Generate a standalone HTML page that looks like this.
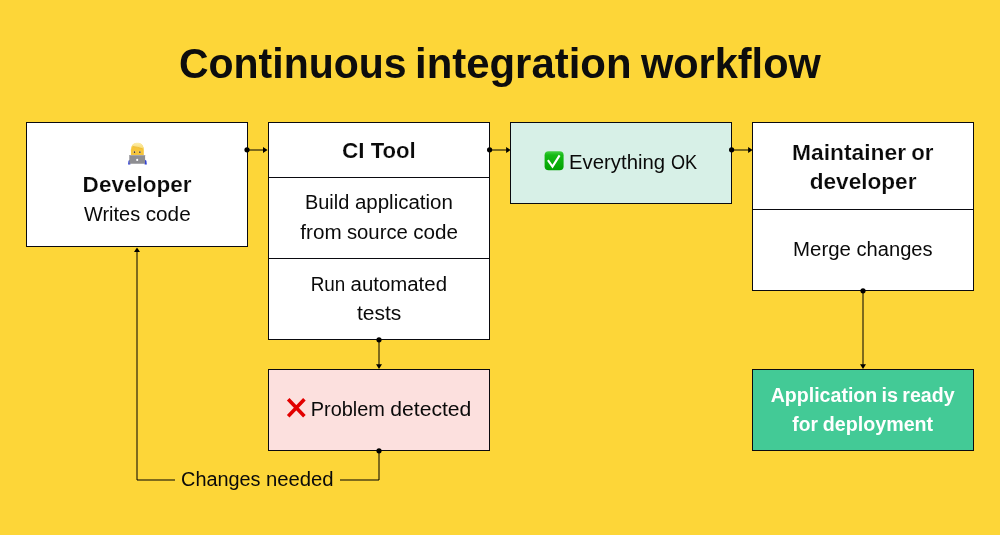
<!DOCTYPE html>
<html><head><meta charset="utf-8">
<style>
html,body{margin:0;padding:0;width:1000px;height:535px;overflow:hidden;background:#FDD638;}
svg{display:block;will-change:transform;}
text{font-family:"Liberation Sans",sans-serif;}
</style></head>
<body>
<svg width="1000" height="535" viewBox="0 0 1000 535">
<defs>
<linearGradient id="gck" x1="0" y1="0" x2="0" y2="1">
<stop offset="0" stop-color="#45d045"/><stop offset="0.2" stop-color="#16bb16"/><stop offset="1" stop-color="#00a200"/>
</linearGradient>
<linearGradient id="ghair" x1="0" y1="0" x2="0" y2="1">
<stop offset="0" stop-color="#fdeeae"/><stop offset="1" stop-color="#f6d255"/>
</linearGradient>
</defs>
<rect x="0" y="0" width="1000" height="535" fill="#FDD638"/>
<g stroke="#0a0a0f" stroke-width="1" shape-rendering="crispEdges">
<rect x="26.5" y="122.5" width="221" height="124" fill="#fff"/>
<rect x="268.5" y="122.5" width="221" height="217" fill="#fff"/>
<line x1="268" y1="177.5" x2="490" y2="177.5"/>
<line x1="268" y1="258.5" x2="490" y2="258.5"/>
<rect x="510.5" y="122.5" width="221" height="81" fill="#D7F0E7"/>
<rect x="752.5" y="122.5" width="221" height="168" fill="#fff"/>
<line x1="752" y1="209.5" x2="974" y2="209.5"/>
<rect x="268.5" y="369.5" width="221" height="81" fill="#FCE0DE"/>
<rect x="752.5" y="369.5" width="221" height="81" fill="#43CA96"/>
</g>
<g stroke="#000" stroke-width="1" fill="none" stroke-linejoin="round">
<line x1="247" y1="150" x2="264" y2="150"/>
<line x1="489" y1="150" x2="507" y2="150"/>
<line x1="731" y1="150" x2="749" y2="150"/>
<line x1="379" y1="339.5" x2="379" y2="365"/>
<line x1="863" y1="290.5" x2="863" y2="365"/>
<polyline points="379,450.5 379,480 340,480"/>
<polyline points="175,480 137,480 137,251"/>
</g>
<g fill="#000">
<circle cx="247" cy="149.8" r="2.6"/>
<circle cx="489.6" cy="149.8" r="2.6"/>
<circle cx="731.6" cy="149.8" r="2.6"/>
<circle cx="379" cy="339.8" r="2.6"/>
<circle cx="863" cy="290.8" r="2.6"/>
<circle cx="379" cy="450.8" r="2.6"/>
<polygon points="263,147 263,153 267.6,150"/>
<polygon points="506.1,147 506.1,153 510.6,150"/>
<polygon points="748.1,147 748.1,153 752.6,150"/>
<polygon points="376,364.3 382,364.3 379,369"/>
<polygon points="860,364.3 866,364.3 863,369"/>
<polygon points="134,252 140,252 137,247.4"/>
</g>
<text x="178.89" y="78.40" font-size="42.8" font-weight="bold" fill="#0d0d0d" textLength="227.80" lengthAdjust="spacingAndGlyphs">Continuous</text>
<text x="414.99" y="78.40" font-size="42.8" font-weight="bold" fill="#0d0d0d" textLength="216.56" lengthAdjust="spacingAndGlyphs">integration</text>
<text x="640.97" y="78.40" font-size="42.8" font-weight="bold" fill="#0d0d0d" textLength="179.77" lengthAdjust="spacingAndGlyphs">workflow</text>
<text x="82.63" y="192.00" font-size="22" font-weight="bold" fill="#0a0a0a" stroke="#fff" stroke-width="0.18" textLength="108.86" lengthAdjust="spacingAndGlyphs">Developer</text>
<text x="84.01" y="221.00" font-size="19.5" fill="#0a0a0a" textLength="56.15" lengthAdjust="spacingAndGlyphs">Writes</text>
<text x="145.74" y="221.00" font-size="19.5" fill="#0a0a0a" textLength="44.95" lengthAdjust="spacingAndGlyphs">code</text>
<text x="342.07" y="158.12" font-size="22" font-weight="bold" fill="#0a0a0a" stroke="#fff" stroke-width="0.18" textLength="22.57" lengthAdjust="spacingAndGlyphs">CI</text>
<text x="370.71" y="158.12" font-size="22" font-weight="bold" fill="#0a0a0a" stroke="#fff" stroke-width="0.18" textLength="45.07" lengthAdjust="spacingAndGlyphs">Tool</text>
<text x="304.93" y="209.44" font-size="19.5" fill="#0a0a0a" textLength="44.31" lengthAdjust="spacingAndGlyphs">Build</text>
<text x="354.91" y="209.44" font-size="19.5" fill="#0a0a0a" textLength="97.97" lengthAdjust="spacingAndGlyphs">application</text>
<text x="300.33" y="239.30" font-size="19.5" fill="#0a0a0a" textLength="41.38" lengthAdjust="spacingAndGlyphs">from</text>
<text x="346.91" y="239.30" font-size="19.5" fill="#0a0a0a" textLength="60.94" lengthAdjust="spacingAndGlyphs">source</text>
<text x="413.23" y="239.30" font-size="19.5" fill="#0a0a0a" textLength="44.79" lengthAdjust="spacingAndGlyphs">code</text>
<text x="310.66" y="290.50" font-size="19.5" fill="#0a0a0a" textLength="34.63" lengthAdjust="spacingAndGlyphs">Run</text>
<text x="350.62" y="290.50" font-size="19.5" fill="#0a0a0a" textLength="96.37" lengthAdjust="spacingAndGlyphs">automated</text>
<text x="357.00" y="319.80" font-size="19.5" fill="#0a0a0a" textLength="44.37" lengthAdjust="spacingAndGlyphs">tests</text>
<text x="569.06" y="168.90" font-size="19.5" fill="#0a0a0a" textLength="96.01" lengthAdjust="spacingAndGlyphs">Everything</text>
<text x="670.92" y="168.90" font-size="19.5" fill="#0a0a0a" textLength="26.17" lengthAdjust="spacingAndGlyphs">OK</text>
<text x="792.03" y="159.60" font-size="22" font-weight="bold" fill="#0a0a0a" stroke="#fff" stroke-width="0.18" textLength="114.05" lengthAdjust="spacingAndGlyphs">Maintainer</text>
<text x="911.15" y="159.60" font-size="22" font-weight="bold" fill="#0a0a0a" stroke="#fff" stroke-width="0.18" textLength="22.26" lengthAdjust="spacingAndGlyphs">or</text>
<text x="809.71" y="188.61" font-size="22" font-weight="bold" fill="#0a0a0a" stroke="#fff" stroke-width="0.18" textLength="106.73" lengthAdjust="spacingAndGlyphs">developer</text>
<text x="793.07" y="256.00" font-size="19.5" fill="#0a0a0a" textLength="57.87" lengthAdjust="spacingAndGlyphs">Merge</text>
<text x="856.52" y="256.00" font-size="19.5" fill="#0a0a0a" textLength="76.05" lengthAdjust="spacingAndGlyphs">changes</text>
<text x="310.76" y="416.00" font-size="19.5" fill="#0a0a0a" textLength="74.20" lengthAdjust="spacingAndGlyphs">Problem</text>
<text x="390.26" y="416.00" font-size="19.5" fill="#0a0a0a" textLength="81.09" lengthAdjust="spacingAndGlyphs">detected</text>
<text x="770.70" y="401.60" font-size="19.6" font-weight="bold" fill="#ffffff" textLength="106.60" lengthAdjust="spacingAndGlyphs">Application</text>
<text x="881.52" y="401.60" font-size="19.6" font-weight="bold" fill="#ffffff" textLength="16.56" lengthAdjust="spacingAndGlyphs">is</text>
<text x="902.32" y="401.60" font-size="19.6" font-weight="bold" fill="#ffffff" textLength="52.27" lengthAdjust="spacingAndGlyphs">ready</text>
<text x="792.28" y="431.00" font-size="19.6" font-weight="bold" fill="#ffffff" textLength="25.65" lengthAdjust="spacingAndGlyphs">for</text>
<text x="822.74" y="431.00" font-size="19.6" font-weight="bold" fill="#ffffff" textLength="110.44" lengthAdjust="spacingAndGlyphs">deployment</text>
<text x="181.04" y="485.67" font-size="19.5" fill="#0a0a0a" textLength="79.53" lengthAdjust="spacingAndGlyphs">Changes</text>
<text x="265.92" y="485.67" font-size="19.5" fill="#0a0a0a" textLength="67.74" lengthAdjust="spacingAndGlyphs">needed</text>
<rect x="544.6" y="151.2" width="19" height="19" rx="4" fill="url(#gck)"/>
<path d="M547.9,160.2 L552.5,166.6 L559.6,155.4" stroke="#fff" stroke-width="2.1" fill="none"/>
<path d="M288.2,399.3 L304.4,416.2 M304.4,399.3 L288.2,416.2" stroke="#E20000" stroke-width="3.6" fill="none"/>
<g>
<path d="M130.9,150.5 C130.9,145.3 133.7,142.9 137.4,142.9 C141.1,142.9 143.8,145.3 143.8,150.5 L143.8,156 L130.9,156 Z" fill="#F6C53A"/>
<path d="M130.9,151.2 C130.6,145.3 133.6,142.8 137.4,142.8 C141.2,142.8 144.1,145.3 143.8,151.2 C143.3,149 142.8,148.3 142.2,148.6 C139.5,148 135.5,147 132.4,146.6 C131.6,148 131.2,149.5 130.9,151.2 Z" fill="url(#ghair)"/>
<path d="M132.6,146.4 C135.8,146.9 139.6,147.6 142.6,148.8" stroke="#e9b52a" stroke-width="0.7" fill="none"/>
<ellipse cx="134.5" cy="152" rx="1.2" ry="1" fill="#fff6d8"/>
<ellipse cx="139.9" cy="152" rx="1.2" ry="1" fill="#fff6d8"/>
<ellipse cx="134.5" cy="152.1" rx="0.85" ry="0.9" fill="#3d2a10"/>
<ellipse cx="139.9" cy="152.1" rx="0.85" ry="0.9" fill="#3d2a10"/>
<path d="M128.1,164.4 L128.5,160.8 L130.4,159.6 L130.4,164.4 Z" fill="#2a3ad6"/>
<path d="M146.8,164.4 L146.4,160.8 L144.6,159.6 L144.6,164.4 Z" fill="#2a3ad6"/>
<rect x="129.3" y="155.1" width="15.8" height="8.7" rx="0.5" fill="#8e8e92"/>
<rect x="129.3" y="155.1" width="15.8" height="0.9" fill="#a9a9ad"/>
<circle cx="137.2" cy="159.9" r="1.05" fill="#fff"/>
</g>
</svg>
</body></html>
